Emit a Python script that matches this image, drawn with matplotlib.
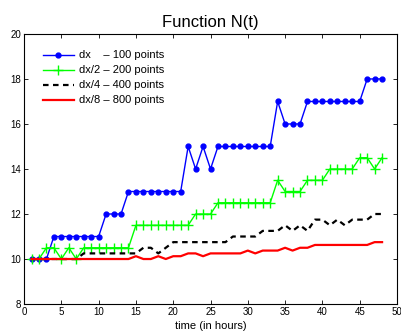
import numpy as np
import matplotlib
matplotlib.use('Agg')
import matplotlib.pyplot as plt

plt.rcParams['font.family'] = ['Liberation Sans', 'DejaVu Sans']

# time in hours
t = np.arange(1, 49)

# N(t) for each step size
n_dx = [10, 10, 10, 11, 11, 11, 11, 11, 11, 11, 12, 12, 12,
        13, 13, 13, 13, 13, 13, 13, 13, 15, 14, 15, 14,
        15, 15, 15, 15, 15, 15, 15, 15, 17, 16, 16, 16,
        17, 17, 17, 17, 17, 17, 17, 17, 18, 18, 18]
n_dx2 = [10, 10, 10.5, 10.5, 10, 10.5, 10, 10.5, 10.5, 10.5, 10.5, 10.5, 10.5, 10.5,
         11.5, 11.5, 11.5, 11.5, 11.5, 11.5, 11.5, 11.5, 12, 12, 12,
         12.5, 12.5, 12.5, 12.5, 12.5, 12.5, 12.5, 12.5, 13.5, 13, 13, 13,
         13.5, 13.5, 13.5, 14, 14, 14, 14, 14.5, 14.5, 14, 14.5]
n_dx4 = [10, 10, 10, 10, 10, 10, 10, 10.25, 10.25, 10.25, 10.25, 10.25, 10.25, 10.25,
         10.25, 10.5, 10.5, 10.25, 10.5, 10.75, 10.75, 10.75, 10.75, 10.75, 10.75,
         10.75, 10.75, 11, 11, 11, 11, 11.25, 11.25, 11.25, 11.5, 11.25, 11.5,
         11.25, 11.75, 11.75, 11.5, 11.75, 11.5, 11.75, 11.75, 11.75, 12, 12]
n_dx8 = [10, 10, 10, 10, 10, 10, 10, 10, 10, 10, 10, 10, 10, 10,
         10.125, 10, 10, 10.125, 10, 10.125, 10.125, 10.25, 10.25, 10.125,
         10.25, 10.25, 10.25, 10.25, 10.25, 10.375, 10.25, 10.375, 10.375, 10.375,
         10.5, 10.375, 10.5, 10.5, 10.625, 10.625, 10.625, 10.625, 10.625, 10.625,
         10.625, 10.625, 10.75, 10.75]

labels = ['dx    \u2013 100 points', 'dx/2 \u2013 200 points',
          'dx/4 \u2013 400 points', 'dx/8 \u2013 800 points']

fig = plt.figure(figsize=(4.01, 3.33), dpi=100)
ax = fig.add_axes([0.06, 0.087, 0.93, 0.811])

ax.plot(t, n_dx, color='#0000ff', marker='o', markersize=3.5, lw=1, label=labels[0])
ax.plot(t, n_dx2, color='#00ff00', marker='+', markersize=7, mew=1, lw=1, label=labels[1])
ax.plot(t, n_dx4, color='black', lw=1.6, dashes=(2.5, 2), label=labels[2])
ax.plot(t, n_dx8, color='#ff0000', lw=1.6, label=labels[3])

ax.set_xlim(0, 50)
ax.set_ylim(8, 20)
ax.set_xticks(np.arange(0, 51, 5))
ax.set_yticks(np.arange(8, 21, 2))
ax.tick_params(direction='in', length=3, width=0.6, labelsize=7, top=True, right=True, pad=2)
for s in ax.spines.values():
    s.set_linewidth(0.8)

ax.set_title('Function N(t)', fontsize=12, pad=5)
ax.set_xlabel('time (in hours)', fontsize=8, labelpad=3)

ax.legend(loc='upper left', frameon=False, fontsize=8, handlelength=2.8,
          handletextpad=0.5, labelspacing=0.45, borderaxespad=0.6,
          bbox_to_anchor=(0.02, 0.98))

fig.savefig('out.png', dpi=100)
